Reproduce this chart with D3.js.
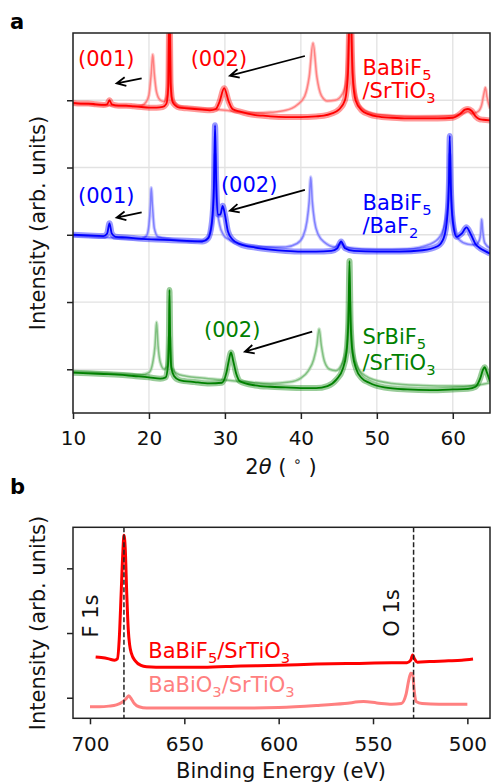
<!DOCTYPE html>
<html>
<head>
<meta charset="utf-8">
<script src="https://cdn.jsdelivr.net/npm/d3@7"></script>
<style>
  body { margin: 0; background: #fff; }
  text { font-family: "DejaVu Sans", sans-serif; }
</style>
</head>
<body>
<svg id="fig" width="491" height="783"></svg>
<script>
// ---- panel a: XRD, 2theta vs offset intensity ----
var xrdTicks = [10, 20, 30, 40, 50, 60];
var xrdLevels = [0, 1, 2, 3, 4];

var redFilm = [[10,3.96],[11,3.95],[12,3.95],[13,3.94],[14,3.93],[14.5,3.94],[14.8,4.0],[15.1,3.94],[16,3.92],[17,3.92],[18,3.91],[19,3.90],[20,3.89],[21,3.89],[21.8,3.90],[22.3,3.95],[22.55,4.2],[22.7,5.6],[22.85,4.25],[23.1,3.98],[23.5,3.92],[24,3.89],[25,3.88],[26,3.87],[27,3.86],[28,3.85],[28.8,3.87],[29.3,3.98],[29.9,4.18],[30.5,3.98],[31,3.87],[32,3.83],[33,3.80],[34,3.78],[35,3.77],[36,3.76],[38,3.75],[40,3.75],[42,3.76],[43,3.77],[44,3.80],[45,3.86],[45.8,4.0],[46.2,4.4],[46.5,5.6],[46.8,4.4],[47.2,4.0],[48,3.85],[49,3.79],[50,3.76],[52,3.74],[54,3.73],[56,3.73],[58,3.73],[60,3.74],[61,3.80],[61.6,3.86],[62,3.87],[62.5,3.84],[63,3.76],[63.5,3.72],[64,3.71],[64.9,3.70]];
var redRef = [[10,3.95],[12,3.94],[14,3.93],[16,3.92],[18,3.91],[19,3.92],[19.6,3.97],[20.0,4.08],[20.3,4.4],[20.5,4.68],[20.7,4.4],[21.0,4.12],[21.5,4.0],[22,3.98],[22.4,4.08],[22.7,5.3],[23,4.05],[23.5,3.95],[24,3.91],[26,3.88],[28,3.87],[30,3.85],[32,3.82],[34,3.81],[36,3.82],[38,3.85],[39.5,3.93],[40.5,4.06],[41.1,4.35],[41.6,4.85],[42.1,4.35],[42.7,4.07],[43.5,3.99],[44.5,4.0],[45.5,4.1],[46.0,4.3],[46.5,5.3],[47,4.2],[48,3.88],[50,3.79],[55,3.76],[60,3.77],[61.5,3.81],[62,3.83],[62.5,3.80],[63.3,3.83],[63.8,3.93],[64.1,4.1],[64.3,4.19],[64.5,4.05],[64.9,3.88]];

var blueFilm = [[10,2.0],[12,1.99],[14,1.98],[14.5,2.02],[14.8,2.17],[15.1,2.02],[15.6,1.97],[17,1.96],[19,1.94],[21,1.93],[23,1.92],[25,1.91],[27,1.90],[27.8,1.95],[28.3,2.2],[28.55,2.7],[28.7,3.63],[28.85,2.8],[29.1,2.3],[29.4,2.3],[29.7,2.43],[30.0,2.3],[30.4,2.05],[31,1.93],[32,1.86],[34,1.81],[36,1.78],[38,1.76],[40,1.75],[42,1.75],[44,1.76],[44.8,1.80],[45.3,1.90],[45.8,1.80],[47,1.76],[50,1.75],[53,1.75],[56,1.77],[58,1.83],[58.8,1.95],[59.3,2.3],[59.5,2.8],[59.6,3.47],[59.75,2.7],[60.0,2.2],[60.5,1.97],[61.2,2.02],[61.8,2.11],[62.4,2.0],[63,1.86],[63.6,1.80],[64.2,1.76],[64.9,1.72]];
var blueRef = [[10,1.99],[13,1.97],[16,1.95],[19,1.94],[19.7,1.99],[20.0,2.15],[20.2,2.45],[20.3,2.70],[20.45,2.45],[20.7,2.1],[21.2,1.97],[23,1.93],[26,1.90],[27.5,1.92],[28.2,2.1],[28.5,2.5],[28.7,3.2],[28.9,2.5],[29.3,2.15],[29.8,2.0],[30.5,1.93],[32,1.86],[35,1.82],[38,1.82],[39.5,1.87],[40.3,1.98],[40.8,2.2],[41.1,2.5],[41.3,2.86],[41.5,2.5],[41.8,2.2],[42.3,2.0],[43.2,1.88],[44.5,1.82],[45.3,1.87],[46,1.81],[50,1.78],[54,1.79],[57,1.86],[58.3,1.97],[59.1,2.25],[59.4,2.6],[59.6,3.2],[59.8,2.6],[60.2,2.1],[60.8,1.93],[62,1.86],[63,1.85],[63.5,1.92],[63.7,2.05],[63.8,2.23],[63.95,2.05],[64.2,1.88],[64.9,1.80]];

var greenFilm = [[10,-0.05],[12,-0.06],[14,-0.07],[16,-0.08],[18,-0.10],[20,-0.12],[21.5,-0.14],[22.2,-0.12],[22.5,0.05],[22.62,0.45],[22.7,1.18],[22.8,0.45],[22.95,0.02],[23.3,-0.1],[24,-0.16],[26,-0.19],[28,-0.21],[29.6,-0.2],[30.2,-0.05],[30.5,0.12],[30.8,0.25],[31.1,0.12],[31.5,-0.07],[32,-0.18],[34,-0.24],[36,-0.26],[38,-0.27],[40,-0.28],[42,-0.28],[43.5,-0.25],[44.7,-0.15],[45.5,0.0],[46.0,0.25],[46.25,0.7],[46.4,1.61],[46.55,0.7],[46.8,0.25],[47.3,0.0],[48,-0.13],[49,-0.2],[51,-0.27],[54,-0.3],[57,-0.31],[60,-0.30],[62,-0.29],[63,-0.26],[63.6,-0.14],[64.0,0.0],[64.2,0.03],[64.5,-0.05],[64.9,-0.18]];
var greenRef = [[10,-0.04],[13,-0.05],[16,-0.07],[19,-0.08],[20,-0.05],[20.5,0.1],[20.8,0.35],[21.0,0.70],[21.2,0.35],[21.5,0.1],[22,0.0],[22.4,0.05],[22.7,0.5],[23,0.02],[24,-0.08],[27,-0.13],[30,-0.16],[33,-0.19],[36,-0.21],[38.5,-0.19],[40,-0.13],[41,-0.02],[41.7,0.15],[42.1,0.35],[42.4,0.60],[42.7,0.35],[43.1,0.12],[43.8,0.0],[44.6,-0.02],[45.4,0.08],[46.0,0.3],[46.4,1.0],[46.8,0.3],[47.5,0.02],[49,-0.13],[52,-0.21],[56,-0.24],[60,-0.25],[63,-0.24],[64.9,-0.2]];

// ---- panel b: XPS, binding energy vs intensity ----
var xpsTicks = [700, 650, 600, 550, 500];
var xpsLevels = [0, 1, 2];
var xpsLines = [682, 528.5];
var xpsFluoride = [[697,0.63],[694,0.62],[690,0.60],[687,0.58],[685.5,0.6],[684.5,0.9],[683.5,1.6],[682.5,2.3],[682,2.51],[681.3,2.3],[680.5,1.6],[679.7,1.05],[679,0.82],[678,0.68],[676,0.57],[673,0.50],[670,0.48],[660,0.47],[650,0.47],[640,0.47],[620,0.49],[600,0.50],[580,0.52],[560,0.53],[540,0.54],[532,0.54],[530,0.58],[529,0.66],[528,0.6],[526.5,0.55],[520,0.56],[510,0.57],[503,0.58],[497,0.60]];
var xpsOxide = [[700,-0.14],[695,-0.14],[690,-0.13],[686,-0.11],[683,-0.07],[681,-0.02],[679.5,0.03],[678,-0.02],[676.5,-0.09],[674,-0.14],[670,-0.16],[660,-0.16],[650,-0.16],[640,-0.16],[620,-0.16],[600,-0.15],[580,-0.12],[565,-0.09],[555,-0.06],[548,-0.08],[540,-0.10],[535,-0.09],[532.5,0.05],[531,0.28],[530,0.38],[529,0.37],[528.2,0.12],[527.2,-0.06],[524,-0.09],[515,-0.10],[500,-0.10]];

var RED = '#ff0000', LRED = '#ff8080', BLUE = '#0000ff', LBLUE = '#8080ff', GREEN = '#008000', LGREEN = '#80c080';

var svg = d3.select('#fig');

// scales
var xA = d3.scaleLinear().domain([10, 64.9]).range([73, 490]);
var yA = d3.scaleLinear().domain([-0.65, 5.0]).range([413, 33]);
var xB = d3.scaleLinear().domain([709, 488]).range([73, 490]);
var yB = d3.scaleLinear().domain([-0.318, 2.634]).range([718.3, 527.3]);

var defs = svg.append('defs');
defs.append('clipPath').attr('id', 'clipA').append('rect')
  .attr('x', 73).attr('y', 33).attr('width', 417).attr('height', 380);
defs.append('clipPath').attr('id', 'clipB').append('rect')
  .attr('x', 73).attr('y', 527.3).attr('width', 417).attr('height', 191);

// panel a grid
var gridA = svg.append('g');
gridA.selectAll('.vg').data(xrdTicks).enter().append('line')
  .attr('x1', function(d) { return xA(d); }).attr('x2', function(d) { return xA(d); })
  .attr('y1', 33).attr('y2', 413)
  .attr('stroke', '#e2e2e2').attr('stroke-width', 1.3);
gridA.selectAll('.hg').data(xrdLevels).enter().append('line')
  .attr('x1', 73).attr('x2', 490)
  .attr('y1', function(d) { return yA(d); }).attr('y2', function(d) { return yA(d); })
  .attr('stroke', '#e2e2e2').attr('stroke-width', 1.3);

// panel a curves: a soft wide band under each trace stands in for the measurement noise
var lineA = d3.line().x(function(d) { return xA(d[0]); }).y(function(d) { return yA(d[1]); })
  .curve(d3.curveMonotoneX);
var curvesA = svg.append('g').attr('clip-path', 'url(#clipA)');
[[redRef, LRED, 1.5, 3.5], [redFilm, RED, 1.8, 6],
 [blueRef, LBLUE, 1.5, 3.5], [blueFilm, BLUE, 1.8, 6],
 [greenRef, LGREEN, 1.5, 3.5], [greenFilm, GREEN, 1.8, 6]].forEach(function(c) {
  curvesA.append('path').datum(c[0]).attr('d', lineA)
    .attr('fill', 'none').attr('stroke', c[1]).attr('stroke-width', c[3])
    .attr('stroke-opacity', 0.4).attr('stroke-linejoin', 'round');
  curvesA.append('path').datum(c[0]).attr('d', lineA)
    .attr('fill', 'none').attr('stroke', c[1]).attr('stroke-width', c[2])
    .attr('stroke-linejoin', 'round');
});

// panel a axes
var axAx = svg.append('g').attr('transform', 'translate(0,413)')
  .call(d3.axisBottom(xA).tickValues(xrdTicks).tickSize(6).tickSizeOuter(0).tickPadding(12));
var axAy = svg.append('g').attr('transform', 'translate(73,0)')
  .call(d3.axisLeft(yA).tickValues(xrdLevels).tickFormat('').tickSize(6).tickSizeOuter(0));
svg.append('rect').attr('x', 73).attr('y', 33).attr('width', 417).attr('height', 380)
  .attr('fill', 'none').attr('stroke', '#222').attr('stroke-width', 1.5);

// panel b curves
var lineB = d3.line().x(function(d) { return xB(d[0]); }).y(function(d) { return yB(d[1]); })
  .curve(d3.curveMonotoneX);
var curvesB = svg.append('g').attr('clip-path', 'url(#clipB)');
curvesB.append('path').datum(xpsOxide).attr('d', lineB)
  .attr('fill', 'none').attr('stroke', LRED).attr('stroke-width', 3).attr('stroke-linejoin', 'round');
curvesB.append('path').datum(xpsFluoride).attr('d', lineB)
  .attr('fill', 'none').attr('stroke', RED).attr('stroke-width', 3).attr('stroke-linejoin', 'round');
curvesB.selectAll('.dash').data(xpsLines).enter().append('line')
  .attr('x1', function(d) { return xB(d); }).attr('x2', function(d) { return xB(d); })
  .attr('y1', 527.3).attr('y2', 718.3)
  .attr('stroke', '#222').attr('stroke-width', 1.5).attr('stroke-dasharray', '5,2.5');

var axBx = svg.append('g').attr('transform', 'translate(0,718.3)')
  .call(d3.axisBottom(xB).tickValues(xpsTicks).tickSize(6).tickSizeOuter(0).tickPadding(13));
var axBy = svg.append('g').attr('transform', 'translate(73,0)')
  .call(d3.axisLeft(yB).tickValues(xpsLevels).tickFormat('').tickSize(6).tickSizeOuter(0));
svg.append('rect').attr('x', 73).attr('y', 527.3).attr('width', 417).attr('height', 191)
  .attr('fill', 'none').attr('stroke', '#222').attr('stroke-width', 1.5);

[axAx, axAy, axBx, axBy].forEach(function(g) {
  g.select('.domain').remove();
  g.selectAll('.tick line').attr('stroke', '#222').attr('stroke-width', 1.5);
  g.selectAll('.tick text').attr('font-size', 20).attr('fill', '#111')
    .style('font-family', '"DejaVu Sans", sans-serif');
});

// axis titles
svg.append('text').attr('transform', 'translate(45,223) rotate(-90)')
  .attr('text-anchor', 'middle').attr('font-size', 21).attr('fill', '#111')
  .text('Intensity (arb. units)');
svg.append('text').attr('transform', 'translate(45,623) rotate(-90)')
  .attr('text-anchor', 'middle').attr('font-size', 21).attr('fill', '#111')
  .text('Intensity (arb. units)');
var xt = svg.append('text').attr('x', 281).attr('y', 474).attr('text-anchor', 'middle')
  .attr('font-size', 21).attr('fill', '#111');
xt.append('tspan').text('2');
xt.append('tspan').attr('font-style', 'italic').text('θ');
xt.append('tspan').text(' ( ');
xt.append('tspan').attr('font-size', 14).attr('dy', -8).text('∘');
xt.append('tspan').attr('dy', 8).text(' )');
svg.append('text').attr('x', 281).attr('y', 778).attr('text-anchor', 'middle')
  .attr('font-size', 21).attr('fill', '#111').text('Binding Energy (eV)');

svg.append('text').attr('x', 10).attr('y', 29).attr('font-size', 21).attr('font-weight', 'bold').text('a');
svg.append('text').attr('x', 10).attr('y', 494).attr('font-size', 21).attr('font-weight', 'bold').text('b');

// chemical formula helper: parts alternate normal / subscript
function formula(sel, parts) {
  parts.forEach(function(p, i) {
    if (i % 2 === 1) {
      sel.append('tspan').attr('font-size', '0.7em').attr('dy', 5).text(p);
    } else {
      sel.append('tspan').attr('dy', i === 0 ? 0 : -5).text(p);
    }
  });
}

// panel a annotations
var peakNotes = [
  { t: '(001)', c: RED,   tx: 10.66, ty: 4.509, a: [19.04, 4.326, 15.75, 4.252] },
  { t: '(002)', c: RED,   tx: 25.49, ty: 4.509, a: [40.53, 4.658, 30.66, 4.365] },
  { t: '(001)', c: BLUE,  tx: 10.66, ty: 2.477, a: [19.04, 2.334, 15.75, 2.254] },
  { t: '(002)', c: BLUE,  tx: 29.47, ty: 2.640, a: [40.53, 2.666, 30.66, 2.358] },
  { t: '(002)', c: GREEN, tx: 27.24, ty: 0.475, a: [41.49, 0.559, 32.63, 0.261] }
];
peakNotes.forEach(function(n) {
  svg.append('text').attr('x', xA(n.tx)).attr('y', yA(n.ty))
    .attr('font-size', 21).attr('fill', n.c).text(n.t);
  var x1 = xA(n.a[0]), y1 = yA(n.a[1]), x2 = xA(n.a[2]), y2 = yA(n.a[3]);
  var ang = Math.atan2(y2 - y1, x2 - x1), L = 10, sp = 0.45;
  var p = 'M' + x1 + ',' + y1 + 'L' + x2 + ',' + y2 +
    'M' + (x2 - L * Math.cos(ang - sp)) + ',' + (y2 - L * Math.sin(ang - sp)) +
    'L' + x2 + ',' + y2 +
    'L' + (x2 - L * Math.cos(ang + sp)) + ',' + (y2 - L * Math.sin(ang + sp));
  svg.append('path').attr('d', p).attr('fill', 'none').attr('stroke', '#000')
    .attr('stroke-width', 1.8).attr('stroke-linejoin', 'miter');
});

var sampleNotes = [
  { c: RED,   y1: 4.375, y2: 4.029, l1: ['BaBiF', '5'], l2: ['/SrTiO', '3'] },
  { c: BLUE,  y1: 2.368, y2: 2.022, l1: ['BaBiF', '5'], l2: ['/BaF', '2'] },
  { c: GREEN, y1: 0.376, y2: -0.011, l1: ['SrBiF', '5'], l2: ['/SrTiO', '3'] }
];
sampleNotes.forEach(function(s) {
  var t1 = svg.append('text').attr('x', xA(48.12)).attr('y', yA(s.y1)).attr('font-size', 21).attr('fill', s.c);
  formula(t1, s.l1);
  var t2 = svg.append('text').attr('x', xA(48.12)).attr('y', yA(s.y2)).attr('font-size', 21).attr('fill', s.c);
  formula(t2, s.l2);
});

// panel b annotations
var fl = svg.append('text').attr('x', xB(669.1)).attr('y', yB(0.61)).attr('font-size', 21).attr('fill', RED);
formula(fl, ['BaBiF', '5', '/SrTiO', '3']);
var ox = svg.append('text').attr('x', xB(669.1)).attr('y', yB(0.093)).attr('font-size', 21).attr('fill', LRED);
formula(ox, ['BaBiO', '3', '/SrTiO', '3']);

svg.append('text').attr('transform', 'translate(' + xB(695.8) + ',' + yB(1.263) + ') rotate(-90)')
  .attr('text-anchor', 'middle').attr('font-size', 21).attr('fill', '#111').text('F 1s');
svg.append('text').attr('transform', 'translate(' + xB(536.2) + ',' + yB(1.31) + ') rotate(-90)')
  .attr('text-anchor', 'middle').attr('font-size', 21).attr('fill', '#111').text('O 1s');
</script>
</body>
</html>
